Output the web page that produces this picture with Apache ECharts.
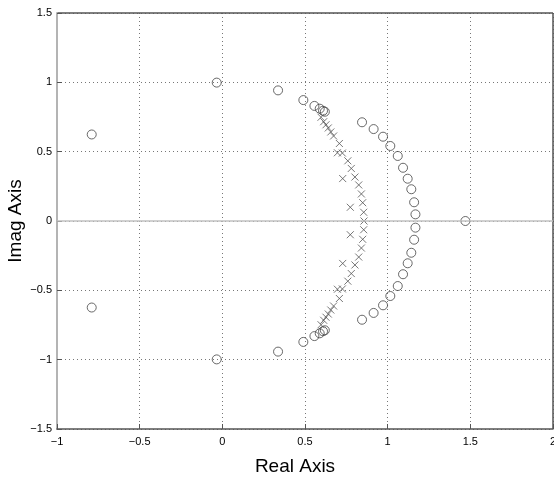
<!DOCTYPE html>
<html><head><meta charset="utf-8">
<script src="https://cdn.jsdelivr.net/npm/echarts@6/dist/echarts.min.js"></script>
<style>html,body{margin:0;padding:0;background:#fff}#c{width:554px;height:477px}</style>
</head><body><div id="c"></div>
<script>
// Zeros (upper half-plane + real), conjugates added below
const zerosUpper = [
  [-0.790, 0.624], [-0.034, 0.998], [0.337, 0.942], [0.490, 0.872],
  [0.557, 0.830], [0.589, 0.810], [0.609, 0.795], [0.620, 0.788],
  [0.845, 0.712], [0.915, 0.663], [0.972, 0.608], [1.016, 0.541],
  [1.061, 0.469], [1.093, 0.384], [1.121, 0.305], [1.143, 0.229],
  [1.160, 0.135], [1.168, 0.048]
];
const zerosReal = [[1.470, 0]];
// Poles (upper half-plane + real)
const polesUpper = [
  [0.597, 0.748], [0.613, 0.716], [0.627, 0.694], [0.641, 0.671],
  [0.656, 0.642], [0.673, 0.613], [0.708, 0.559], [0.696, 0.492],
  [0.726, 0.490], [0.759, 0.434], [0.780, 0.379], [0.802, 0.317],
  [0.728, 0.306], [0.825, 0.260], [0.841, 0.195], [0.849, 0.132],
  [0.855, 0.063], [0.774, 0.099]
];
const polesReal = [[0.857, 0]];
const xTicks = [-1, -0.5, 0, 0.5, 1, 1.5, 2];
const yTicks = [-1.5, -1, -0.5, 0, 0.5, 1, 1.5];

const conj = a => a.map(p => [p[0], -p[1]]);
const zeros = zerosUpper.concat(zerosReal, conj(zerosUpper));
const poles = polesUpper.concat(polesReal, conj(polesUpper));
const fmt = v => String(v).replace('-', '\u2212');
const font = 'Liberation Sans, Arial, sans-serif';

const chart = echarts.init(document.getElementById('c'));
chart.setOption({
  animation: false,
  grid: {left: 57, top: 13, right: 1, bottom: 48, containLabel: false, outerBoundsMode: 'none'},
  xAxis: {
    type: 'value', min: xTicks[0], max: xTicks[xTicks.length-1], interval: 0.5,
    name: 'Real Axis', nameLocation: 'middle', nameGap: 28,
    nameTextStyle: {fontFamily: font, fontSize: 19, color: '#000', padding: [0, 20, 0, 0]},
    axisLine: {onZero: false, lineStyle: {color: '#555', width: 1.5}},
    axisTick: {inside: true, length: 5, lineStyle: {color: '#555'}},
    axisLabel: {formatter: fmt, fontFamily: font, fontSize: 11, color: '#000', margin: 7, hideOverlap: false},
    splitLine: {show: true, lineStyle: {type: [1, 3], color: '#777'}}
  },
  yAxis: {
    type: 'value', min: yTicks[0], max: yTicks[yTicks.length-1], interval: 0.5,
    name: 'Imag Axis', nameLocation: 'middle', nameGap: 32, nameMoveOverlap: false,
    nameTextStyle: {fontFamily: font, fontSize: 19, color: '#000'},
    axisLine: {show: true, onZero: false, lineStyle: {color: '#b4b4b4', width: 2}},
    axisTick: {show: true, inside: true, length: 5, lineStyle: {color: '#555'}},
    axisLabel: {formatter: fmt, fontFamily: font, fontSize: 11, color: '#000', margin: 5},
    splitLine: {show: true, lineStyle: {type: [1, 3], color: '#777'}}
  },
  series: [
    {
      type: 'scatter', data: zeros, symbol: 'circle', symbolSize: 9,
      itemStyle: {color: 'rgba(0,0,0,0)', borderColor: '#444', borderWidth: 1},
      markLine: {
        silent: true, symbol: 'none', label: {show: false},
        lineStyle: {color: '#c0c0c0', type: 'solid', width: 1.5},
        data: [{yAxis: 0}]
      },
      z: 3
    },
    {
      type: 'scatter', data: poles,
      symbol: 'path://M0,0L10,10M10,0L0,10', symbolSize: 7,
      itemStyle: {color: 'none', borderColor: '#555', borderWidth: 1},
      z: 3
    }
  ]
});
// top and right box lines
chart.setOption({graphic: [
  {type: 'line', shape: {x1: 57, y1: 13, x2: 553, y2: 13}, style: {stroke: '#555', lineWidth: 1.5}},
  {type: 'line', shape: {x1: 553, y1: 13, x2: 553, y2: 429}, style: {stroke: '#555', lineWidth: 1.5}}
]});
</script></body></html>
